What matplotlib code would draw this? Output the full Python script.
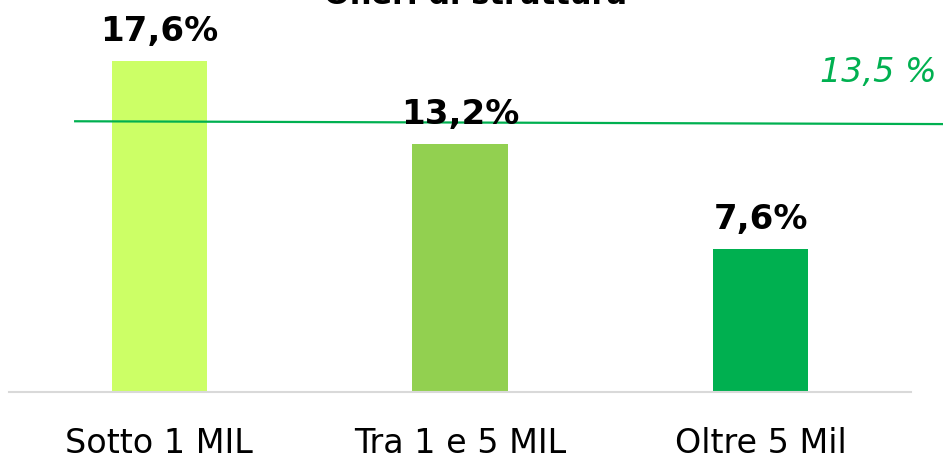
import matplotlib.pyplot as plt
import numpy as np

# Data
categories = ['Sotto 1 MIL', 'Tra 1 e 5 MIL', 'Oltre 5 Mil']
values = [17.6, 13.2, 7.6]
value_labels = ['17,6%', '13,2%', '7,6%']
bar_colors = ['#CCFF66', '#92D050', '#00B050']
media_label = '13,5 %'
media_line_y = [14.4, 14.25]   # where the reference line is drawn in the picture
title = 'Oneri di struttura'

fig = plt.figure(figsize=(9.43, 4.59), dpi=100)
ax = fig.add_axes([9/943, 67/459, 902/943, 392/459])

x = np.arange(len(categories))
bars = ax.bar(x, values, width=0.316, color=bar_colors, zorder=2)

ax.set_xlim(-0.5, 2.5)
ax.set_ylim(0, 20.85)

# Value labels above bars
for bar, lab in zip(bars, value_labels):
    ax.annotate(lab, (bar.get_x() + bar.get_width()/2, bar.get_height()),
                xytext=(0, 14.5), textcoords='offset points',
                ha='center', va='baseline', fontsize=24.5, fontweight='bold',
                color='black', zorder=4)

# Average line (runs past the axes on the right)
ax.plot([-0.28, 2.61], media_line_y, color='#00B050', lw=1.6, clip_on=False, zorder=3)
fig.text(937/943, 1 - 82/459, media_label, ha='right', va='baseline',
         fontsize=24, style='italic', color='#00B050')

# Title, cut off at the top as in the original
fig.text(475/943, 1 - 4/459, title, ha='center', va='baseline',
         fontsize=22, fontweight='bold', color='black')

# Axes styling
for s in ['top', 'right', 'left']:
    ax.spines[s].set_visible(False)
ax.spines['bottom'].set_color('#D9D9D9')
ax.spines['bottom'].set_linewidth(1.5)
ax.set_yticks([])
ax.set_xticks(x)
ax.set_xticklabels(categories, fontsize=24)
ax.tick_params(axis='x', length=0, pad=25)

fig.savefig('out.png', dpi=100)
